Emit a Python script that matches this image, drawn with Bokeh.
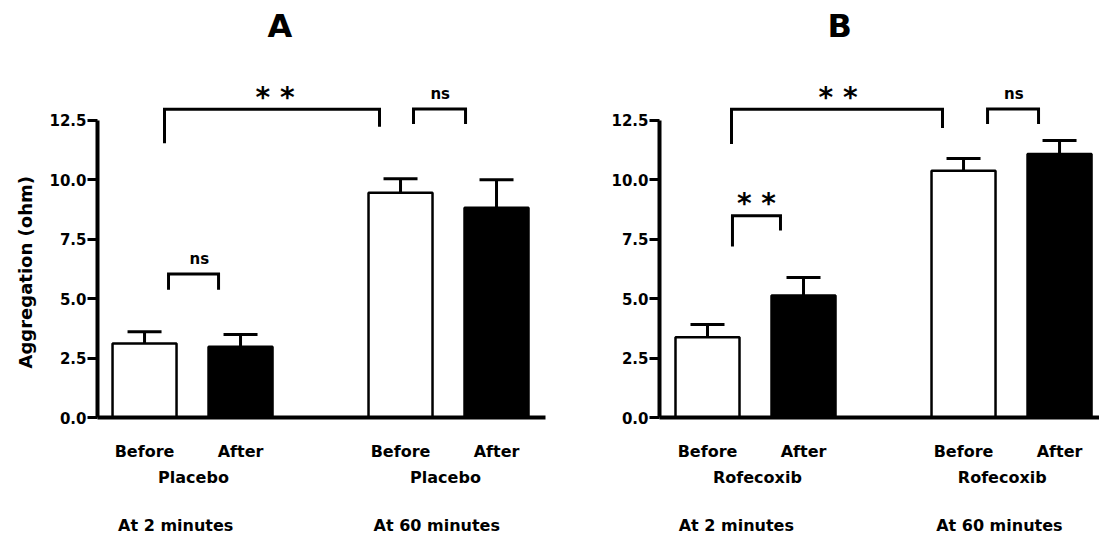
from bokeh.plotting import figure
from bokeh.layouts import row
from bokeh.models import (Range1d, FixedTicker, LinearAxis, Whisker, TeeHead,
                          ColumnDataSource, Title, NumeralTickFormatter)
from bokeh.core.properties import value
from bokeh.embed import file_html
from bokeh.resources import INLINE

# ---------------- data ----------------
conditions = ["Before", "After", "Before", "After"]
bar_colors = ["white", "black", "white", "black"]

placebo_mean = [3.11, 2.98, 9.45, 8.82]
placebo_upper = [3.61, 3.49, 10.04, 10.00]

rofecoxib_mean = [3.38, 5.13, 10.38, 11.08]
rofecoxib_upper = [3.91, 5.89, 10.89, 11.65]

drug_names = ["Placebo", "Rofecoxib"]
time_labels_a = ["At  2 minutes", "At  60 minutes"]
time_labels_b = ["At 2 minutes", "At 60 minutes"]
y_ticks = [0, 2.5, 5, 7.5, 10, 12.5]
panel_titles = ["A", "B"]
y_label = "Aggregation (ohm)"

# significance brackets (label, left x, right x, bar y, left foot, right foot)
sig_a = dict(label=["* *", "ns", "ns"],
             x0=[1.208, 3.802, 1.25], x1=[3.448, 4.344, 1.771],
             top=[12.96, 12.98, 6.04], foot0=[11.53, 12.34, 5.37],
             foot1=[12.23, 12.34, 5.37], tx=[2.36, 4.08, 1.57])
sig_b = dict(label=["* *", "ns", "* *"],
             x0=[1.25, 3.917, 1.26], x1=[3.448, 4.448, 1.76],
             top=[12.96, 12.98, 8.49], foot0=[11.5, 12.34, 7.19],
             foot1=[12.18, 12.34, 7.86], tx=[2.36, 4.19, 1.51])

# ---------------- layout constants ----------------
GROUP_GAP = 2.6667
BAR_X = [1.0, 2.0, 1.0 + GROUP_GAP, 2.0 + GROUP_GAP]
FONT = "DejaVu Sans"
HEIGHT = 537
Y_TOP = 15.478


def style_title(t, size, offset, standoff):
    t.align = "left"
    t.offset = offset
    t.standoff = standoff
    t.text_font = FONT
    t.text_font_size = size
    t.text_font_style = "bold"
    t.text_color = "black"


def make_panel(means, uppers, drug, times, sig, title, ylab, width,
               border_left, border_right, x_start, x_end, title_offset,
               drug_x, time_x):
    p = figure(width=width, height=HEIGHT, output_backend="svg",
               toolbar_location=None, x_range=Range1d(x_start, x_end),
               y_range=Range1d(0, Y_TOP), min_border_left=border_left,
               min_border_right=border_right, min_border_top=48,
               min_border_bottom=120, title=title)
    p.outline_line_color = None
    p.grid.visible = False
    p.background_fill_color = "white"
    p.border_fill_color = "white"
    style_title(p.title, "32px", title_offset, 9)

    src = ColumnDataSource(dict(x=BAR_X, top=means, upper=uppers,
                                color=bar_colors, cond=conditions))
    p.vbar(x="x", top="top", bottom=0, width=0.6667, source=src,
           fill_color="color", line_color="black", line_width=2.5)
    p.add_layout(Whisker(base="x", lower="top", upper="upper", source=src,
                         line_color="black", line_width=3, lower_head=None,
                         upper_head=TeeHead(size=34, line_width=3,
                                            line_color="black")))

    xs = [[a, a, b, b] for a, b in zip(sig["x0"], sig["x1"])]
    ys = [[f0, t, t, f1] for f0, t, f1 in zip(sig["foot0"], sig["top"], sig["foot1"])]
    p.multi_line(xs=xs, ys=ys, line_color="black", line_width=3,
                 line_join="miter")
    ty = [t + (0.5 if lab.startswith("*") else 0.62)
          for lab, t in zip(sig["label"], sig["top"])]
    sizes = ["28px" if lab.startswith("*") else "15px" for lab in sig["label"]]
    tsrc = ColumnDataSource(dict(x=sig["tx"], y=ty, text=sig["label"], size=sizes))
    p.text(x="x", y="y", text="text", source=tsrc, text_font=value(FONT),
           text_font_style="bold", text_font_size="size", text_align="center",
           text_baseline="alphabetic", text_color="black")

    # y axis
    ya = p.yaxis[0]
    ya.ticker = FixedTicker(ticks=y_ticks)
    ya.formatter = NumeralTickFormatter(format="0.0")
    ya.bounds = (0, 12.5)
    ya.axis_line_width = 4
    ya.major_tick_line_width = 3
    ya.major_tick_out = 10
    ya.major_tick_in = 0
    ya.minor_tick_line_color = None
    ya.major_label_standoff = 1
    ya.major_label_text_font = FONT
    ya.major_label_text_font_style = "bold"
    ya.major_label_text_font_size = "15px"
    ya.major_label_text_color = "black"

    if ylab:
        yt = Title(text=ylab)
        style_title(yt, "18px", 49, 22)
        p.add_layout(yt, "left")

    # x axes (three stacked rows of labels)
    xa = p.xaxis[0]
    xa.ticker = FixedTicker(ticks=BAR_X)
    xa.major_label_overrides = {x: c for x, c in zip(BAR_X, conditions)}
    xa.axis_line_width = 4
    xa.major_tick_line_color = None
    xa.minor_tick_line_color = None
    xa.major_tick_out = 0
    xa.major_tick_in = 0
    xa.major_label_standoff = 24

    ax2 = LinearAxis(ticker=FixedTicker(ticks=drug_x),
                     major_label_overrides={x: drug for x in drug_x},
                     major_label_standoff=4)
    ax3 = LinearAxis(ticker=FixedTicker(ticks=time_x),
                     major_label_overrides={x: t for x, t in zip(time_x, times)},
                     major_label_standoff=26)
    for ax in (ax2, ax3):
        ax.axis_line_color = None
        ax.major_tick_line_color = None
        ax.minor_tick_line_color = None
        ax.major_tick_out = 0
        ax.major_tick_in = 0
        p.add_layout(ax, "below")
    for ax in (xa, ax2, ax3):
        ax.major_label_text_font = FONT
        ax.major_label_text_font_style = "bold"
        ax.major_label_text_font_size = "16px"
        ax.major_label_text_color = "black"
    return p


pa = make_panel(placebo_mean, placebo_upper, drug_names[0], time_labels_a,
                sig_a, panel_titles[0], y_label, 568, 97, 23, 0.51, 5.177, 170,
                [1.51, 4.135], [1.354, 4.073])
pb = make_panel(rofecoxib_mean, rofecoxib_upper, drug_names[1], time_labels_b,
                sig_b, panel_titles[1], None, 531, 91, 0, 0.5, 5.083, 168,
                [1.52, 4.07], [1.30, 4.04])

layout = row(pa, pb)
open("out.html", "w").write(file_html(layout, INLINE))
